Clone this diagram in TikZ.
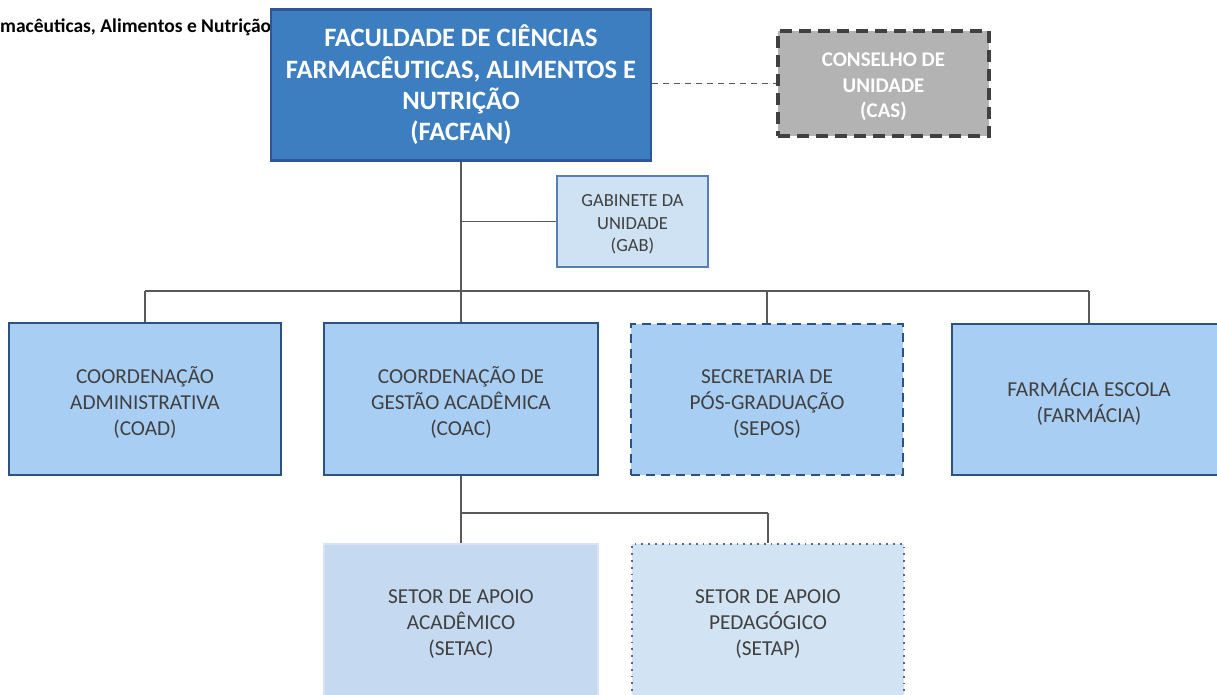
\documentclass[tikz,border=0pt]{standalone}
\usepackage{fontspec}
\setmainfont{Carlito}
\newcommand{\myTopStrut}[1]{\rule{0pt}{#1}}
\definecolor{facfill}{HTML}{3D7EC1}
\definecolor{facline}{HTML}{2F5597}
\definecolor{casfill}{HTML}{B3B3B3}
\definecolor{casline}{HTML}{404040}
\definecolor{gabfill}{HTML}{CFE2F3}
\definecolor{gabline}{HTML}{5A7DB8}
\definecolor{mainfill}{HTML}{A9CEF4}
\definecolor{mainline}{HTML}{2A5382}
\definecolor{setacfill}{HTML}{C5D9F1}
\definecolor{setacline}{HTML}{D6E4F5}
\definecolor{setapfill}{HTML}{D2E3F3}
\definecolor{setapline}{HTML}{4F65A8}
\definecolor{conncol}{HTML}{595959}
\definecolor{txtcol}{HTML}{404040}
\begin{document}
\begin{tikzpicture}[x=1pt,y=-1pt,
  box/.style={rectangle, inner sep=0pt, align=center, text=txtcol},
  mainbox/.style={box, fill=mainfill, draw=mainline, line width=2.5pt,
    minimum width=272pt, minimum height=152pt,
    font=\fontsize{21.3}{26}\selectfont},
  conn/.style={draw=conncol, line width=1.8pt}]
\useasboundingbox (0,0) rectangle (1217,695);
\node[anchor=west, inner sep=0pt, font=\fontsize{19.5}{22}\bfseries\selectfont] (title) at (0,27) {macêuticas, Alimentos e Nutrição};
% top box
\node[box, fill=facfill, draw=facline, line width=2.5pt, text=white,
  minimum width=380pt, minimum height=151pt,
  font=\fontsize{26.5}{31.3}\bfseries\selectfont] (facfan) at (461,85)
  {FACULDADE DE CIÊNCIAS\\FARMACÊUTICAS, ALIMENTOS E\\NUTRIÇÃO\\(FACFAN)};
\node[box, fill=casfill, draw=casline, line width=3.2pt, dash pattern=on 12pt off 7pt, text=white,
  minimum width=211pt, minimum height=105pt,
  font=\fontsize{20.9}{25.5}\bfseries\selectfont] (cas) at (883.5,83.5)
  {\myTopStrut{20.6pt}CONSELHO DE\\UNIDADE\\(CAS)};
\node[box, fill=gabfill, draw=gabline, line width=2pt,
  minimum width=151pt, minimum height=91pt,
  font=\fontsize{18.5}{22.5}\selectfont] (gab) at (632.5,221.5)
  {\myTopStrut{18.5pt}GABINETE DA\\UNIDADE\\(GAB)};
% second level
\node[mainbox] (coad) at (145,399) {\myTopStrut{23pt}COORDENAÇÃO\\ADMINISTRATIVA\\(COAD)};
\node[mainbox, minimum width=274pt] (coac) at (461,399) {\myTopStrut{23pt}COORDENAÇÃO DE\\GESTÃO ACADÊMICA\\(COAC)};
\node[mainbox, minimum height=151pt, dash pattern=on 9pt off 6pt] (sepos) at (767,399.5) {\myTopStrut{23pt}SECRETARIA DE\\PÓS-GRADUAÇÃO\\(SEPOS)};
\node[mainbox, minimum width=274pt, minimum height=151pt] (farm) at (1089,399.5) {\myTopStrut{23pt}FARMÁCIA ESCOLA\\(FARMÁCIA)};
% third level
\node[box, fill=setacfill, draw=setacline, line width=1.5pt,
  minimum width=274pt, minimum height=154pt,
  font=\fontsize{21.3}{26}\selectfont] (setac) at (461,621)
  {\myTopStrut{19.5pt}SETOR DE APOIO\\ACADÊMICO\\(SETAC)};
\node[box, fill=setapfill, draw=setapline, line width=1.8pt, dash pattern=on 1.8pt off 5pt,
  minimum width=272pt, minimum height=154pt,
  font=\fontsize{21.3}{26}\selectfont] (setap) at (768,621)
  {\myTopStrut{19.5pt}SETOR DE APOIO\\PEDAGÓGICO\\(SETAP)};
% connectors
\coordinate (bus) at (461,291);
\coordinate (bus2) at (461,513);
\draw[conn, dash pattern=on 6pt off 5pt] (facfan.east |- cas.west) -- (cas.west);
\draw[conn] (facfan.south) -- (bus);
\draw[conn] (facfan.south |- gab.west) -- (gab.west);
\draw[conn] (coad.north |- bus) -- (farm.north |- bus);
\draw[conn] (coad.north |- bus) -- (coad.north);
\draw[conn] (bus) -- (coac.north);
\draw[conn] (sepos.north |- bus) -- (sepos.north);
\draw[conn] (farm.north |- bus) -- (farm.north);
\draw[conn] (coac.south) -- (bus2);
\draw[conn] (bus2) -- (setap.north |- bus2);
\draw[conn] (bus2) -- (setac.north);
\draw[conn] (setap.north |- bus2) -- (setap.north);
\end{tikzpicture}
\end{document}
